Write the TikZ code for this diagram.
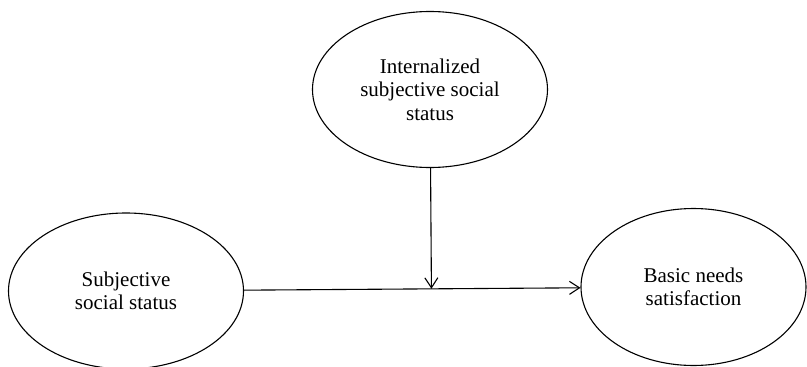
\documentclass[tikz,border=0pt]{standalone}
\usepackage{fontspec}
\setmainfont{Liberation Serif}
\usetikzlibrary{arrows.meta, shapes.geometric, positioning, calc}

\begin{document}
\begin{tikzpicture}[
      x=1pt, y=-1pt, line width=1.1pt,
      >={Straight Barb[length=10pt,width=13pt]},
      latent/.style={ellipse, draw, inner sep=0pt, align=center,
        minimum width=235pt, minimum height=156pt,
        font=\fontsize{21}{23.5}\selectfont},
      ]
      \useasboundingbox (0,0) rectangle (807,367);

      \node[latent] (iss) at (430, 89.5) {Internalized\\subjective social\\status};
      \node[latent] (ss) at (126, 291) {Subjective\\social status};
      \node[latent, minimum width=225pt, minimum height=157pt] (bns) at (693.5, 287) {Basic needs\\satisfaction};

      \path[->] (ss) edge (bns);
      \coordinate (meet) at ($(ss.east)!(iss.south)!(bns.west)$);
      \draw[->] (iss) -- (meet);
\end{tikzpicture}
\end{document}
